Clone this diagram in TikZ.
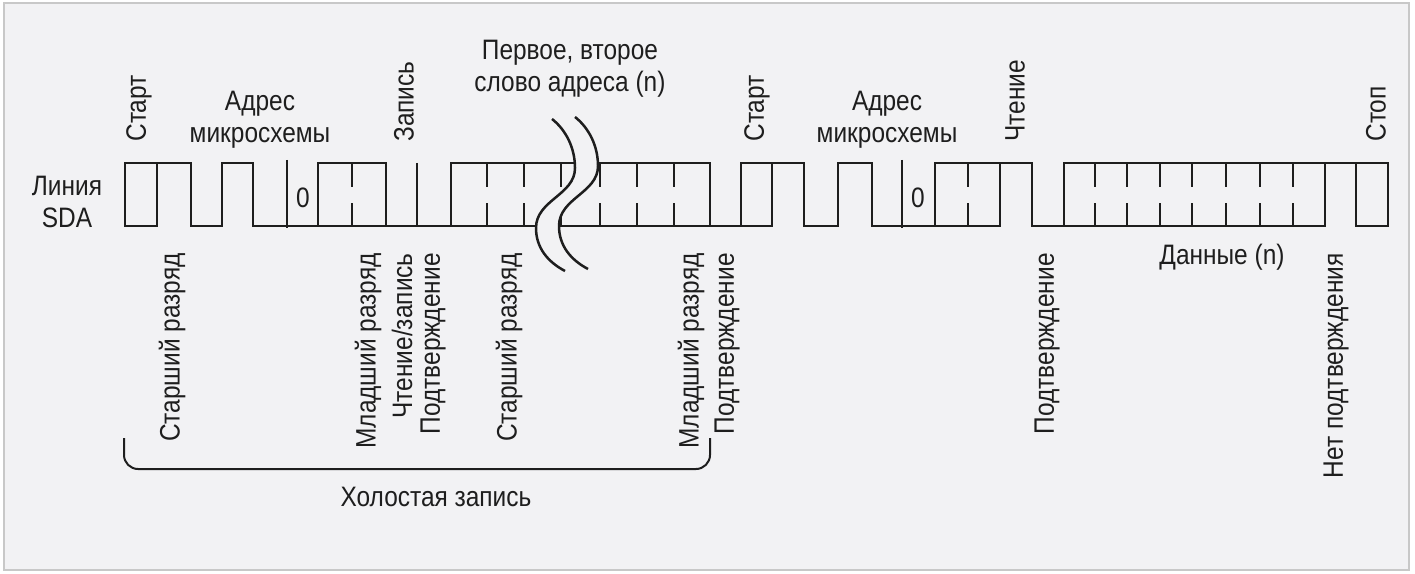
\documentclass[tikz,border=0pt]{standalone}
\usepackage{fontspec}
\setmainfont{Liberation Sans}[FakeStretch=0.87]
\definecolor{paper}{HTML}{F2F2F4}
\definecolor{frame}{HTML}{C8C8C8}
\definecolor{ink}{HTML}{1E1E1E}

\begin{document}
\begin{tikzpicture}[x=0.02cm, y=-0.02cm,
    font=\fontsize{16}{18.2}\selectfont, text=ink,
    wave/.style={draw=ink, line width=0.05cm},
    tagup/.style={rotate=90, anchor=west, inner sep=0pt},
    tagdown/.style={rotate=90, anchor=east, inner sep=0pt}]
    \useasboundingbox (0,0) rectangle (1415,574);
    \draw[frame, fill=paper, line width=0.04cm] (4,3) rectangle (1409,570);

    % signal
    \draw[wave] (125,163) rectangle (157,226);
    \draw[wave] (157,163) -- (191,163) -- (191,226) -- (222,226) -- (222,163) -- (253,163) -- (253,226) -- (318,226);
    \draw[wave] (318,163) rectangle (386,226);
    \draw[wave] (386,226) -- (451,226);
    \draw[wave] (451,163) rectangle (710,226);
    \draw[wave] (710,226) -- (741,226);
    \draw[wave] (741,163) rectangle (772,226);
    \draw[wave] (772,163) -- (804,163) -- (804,226) -- (838,226) -- (838,163) -- (872,163) -- (872,226) -- (935,226);
    \draw[wave] (935,163) rectangle (1000,226);
    \draw[wave] (1000,163) -- (1032,163) -- (1032,226) -- (1064,226);
    \draw[wave] (1064,163) rectangle (1325,226);
    \draw[wave] (1325,163) -- (1356,163);
    \draw[wave] (1356,163) rectangle (1388,226);
    \draw[wave] (417,163) -- (417,226);
    \foreach \x in {287,902}
        \draw[wave] (\x,160) -- (\x,228);
    \foreach \x in {352,487,524,561,600,637,674,968,1095,1127,1160,1192,1226,1260,1293} {
        \draw[wave] (\x,163) -- (\x,187);
        \draw[wave] (\x,203) -- (\x,226);
    }

    % break
    \fill[paper] (552,119) .. controls (566,130) and (575,148) .. (575,168)
        .. controls (575,195) and (536,200) .. (536,228)
        .. controls (536,248) and (548,262) .. (565,271)
        -- (588,269) .. controls (571,260) and (559,246) .. (559,226)
        .. controls (559,198) and (598,193) .. (598,166)
        .. controls (598,146) and (589,128) .. (575,117) -- cycle;
    \draw[wave] (552,119) .. controls (566,130) and (575,148) .. (575,168)
        .. controls (575,195) and (536,200) .. (536,228)
        .. controls (536,248) and (548,262) .. (565,271);
    \draw[wave] (575,117) .. controls (589,128) and (598,146) .. (598,166)
        .. controls (598,193) and (559,198) .. (559,226)
        .. controls (559,246) and (571,260) .. (588,269);

    % labels above
    \node (sda) [align=center] at (67,202) {Линия\\SDA};
    \node (start1) [tagup] at (139,142) {Старт};
    \node (addr1) [align=center] at (260,120) {Адрес\\микросхемы};
    \node (write1) [tagup] at (404,142) {Запись};
    \node (word) [align=center] at (570,69) {Первое, второе\\слово адреса (n)};
    \node (start2) [tagup] at (757,142) {Старт};
    \node (addr2) [align=center] at (887,120) {Адрес\\микросхемы};
    \node (read2) [tagup] at (1015,142) {Чтение};
    \node (stop) [tagup] at (1376,142) {Стоп};
    \node (zero1) at (303,198) {0};
    \node (zero2) at (918,198) {0};

    % labels below
    \node (msb1) [tagdown] at (172,253) {Старший разряд};
    \node (lsb1) [tagdown] at (368,253) {Младший разряд};
    \node (rw1) [tagdown] at (402,253) {Чтение/запись};
    \node (ack1) [tagdown] at (433,253) {Подтверждение};
    \node (msb2) [tagdown] at (509,253) {Старший разряд};
    \node (lsb2) [tagdown] at (691,253) {Младший разряд};
    \node (ack2) [tagdown] at (727,253) {Подтверждение};
    \node (ack3) [tagdown] at (1047,253) {Подтверждение};
    \node (data) at (1222,257) {Данные (n)};
    \node (nack) [tagdown] at (1336,253) {Нет подтверждения};

    \draw[ink, line width=0.04cm, rounded corners=8] (124,438) -- (124,469) -- (710,469) -- (710,438);
    \node (dummy) at (436,497) {Холостая запись};
\end{tikzpicture}
\end{document}
